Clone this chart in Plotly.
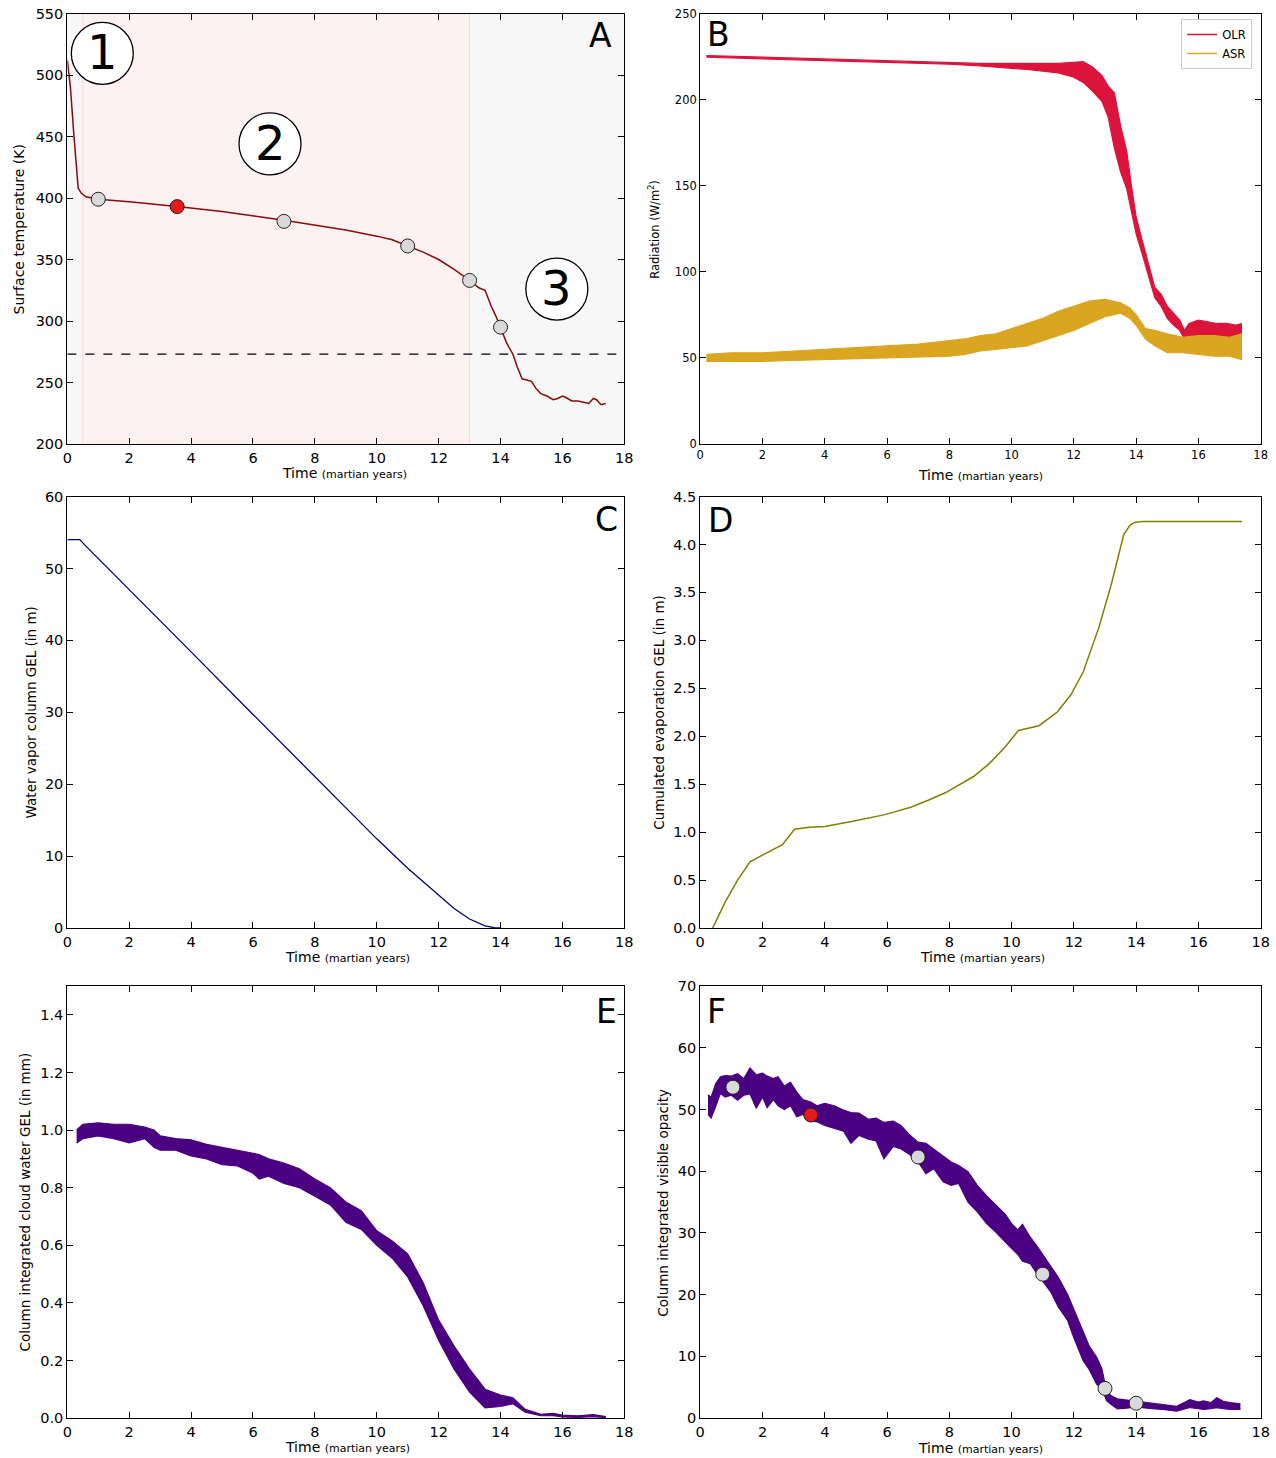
import plotly.graph_objects as go

W, H = 1276, 1458
FONT = "DejaVu Sans"

# ---------------- Panel A: surface temperature ----------------
a_t = [0.0, 0.1, 0.2, 0.3, 0.35, 0.45, 0.6, 1.0, 2.0, 3.55, 5.0, 7.0, 8.0, 9.0, 10.0, 10.5, 11.0, 11.5,
       12.0, 12.5, 13.0, 13.3, 13.5, 13.6, 13.7, 13.85, 14.0, 14.2, 14.4, 14.55, 14.7, 14.9, 15.0, 15.15,
       15.3, 15.5, 15.7, 15.85, 16.0, 16.1, 16.3, 16.5, 16.7, 16.85, 17.0, 17.1, 17.25, 17.4]
a_T = [512, 490, 455, 420, 408, 404, 401, 399, 397, 393, 389, 382, 378, 374, 369, 366, 361, 356,
       350, 342, 333, 327, 325, 318, 312, 304, 295, 282, 273, 262, 253, 252, 251, 245,
       241, 239, 236, 237, 239, 238, 235, 235, 234, 233, 237, 236, 232, 233]
a_mark_t = [1.0, 7.0, 11.0, 13.0, 14.0]
a_mark_T = [399, 381, 361, 333, 295]
a_red_t = [3.55]
a_red_T = [393]
a_freeze = 273
a_phase_edges = [0.0, 0.5, 13.0, 18.0]
a_phase_labels = ["1", "2", "3"]
a_phase_pos_t = [1.13, 6.55, 15.82]
a_phase_pos_T = [517.6, 444.0, 326.0]

# ---------------- Panel B: radiation (noisy bands: lower / upper envelopes) ----------------
olr_t = [0.2, 1, 2, 3, 4, 5, 6, 7, 8, 9, 10, 10.5, 11, 11.5, 12, 12.3, 12.6, 12.9, 13.1, 13.3, 13.5,
         13.7, 13.85, 14.0, 14.2, 14.4, 14.6, 14.8, 15.0, 15.2, 15.4, 15.55, 15.7, 16.0, 16.3, 16.6,
         16.9, 17.2, 17.4]
olr_lo = [224.6, 224.2, 223.7, 223.3, 222.8, 222.2, 221.7, 221.2, 220.6, 219.5, 218.3, 217.5, 216.5,
          215.5, 213, 210, 205, 199, 190, 172, 158, 148, 135, 122, 110, 97, 85, 80, 73, 69, 66, 61, 63,
          62, 63, 61, 61, 63, 64]
olr_hi = [225.6, 225.2, 224.7, 224.3, 223.8, 223.2, 222.7, 222.2, 221.8, 221.0, 221.0, 221.2, 221,
          221, 221.5, 222, 219, 214, 208, 204, 185, 170, 150, 132, 118, 104, 91, 87, 80, 76, 72, 66, 70,
          72, 71, 70, 70, 69, 70]
asr_t = [0.2, 1, 2, 3, 4, 5, 6, 7, 8, 8.5, 9, 9.5, 10, 10.5, 11, 11.5, 12, 12.5, 13, 13.5, 13.8, 14.0,
         14.3, 14.6, 15.0, 15.5, 16.0, 16.5, 17.0, 17.4]
asr_lo = [48, 48, 48, 48.5, 49, 49.5, 50, 50.5, 51, 52, 54, 55, 56, 57, 60, 63, 66, 70, 74, 76, 73, 69,
          61, 57, 53, 53, 52, 51, 51, 49]
asr_hi = [52, 53, 53, 54, 55, 56, 57, 58, 60, 61, 63, 64, 67, 70, 73, 77, 80, 83, 84, 82, 79, 75, 67,
          66, 64, 62, 63, 63, 62, 64]

# ---------------- Panel C: water vapour column ----------------
c_t = [0.0, 0.4, 0.6, 2, 4, 6, 8, 10, 11, 12, 12.5, 13, 13.5, 13.8, 14.0]
c_v = [54, 54, 53.1, 47.1, 38.4, 29.7, 21.0, 12.4, 8.3, 4.5, 2.7, 1.25, 0.3, 0.05, 0.0]

# ---------------- Panel D: cumulated evaporation ----------------
d_t = [0.4, 0.8, 1.2, 1.6, 2.0, 2.64, 3.03, 3.5, 4.0, 4.86, 5.9, 6.76, 7.3, 7.87, 8.78, 9.3, 9.8, 10.22,
       10.88, 11.46, 11.9, 12.3, 12.8, 13.2, 13.6, 13.8, 13.95, 14.2, 17.4]
d_v = [0.0, 0.27, 0.5, 0.69, 0.76, 0.87, 1.03, 1.05, 1.06, 1.11, 1.18, 1.26, 1.33, 1.41, 1.58, 1.72,
       1.89, 2.06, 2.11, 2.25, 2.43, 2.67, 3.13, 3.58, 4.1, 4.2, 4.23, 4.24, 4.24]

# ---------------- Panel E: cloud water (noisy band) ----------------
e_t = [0.3, 0.5, 1, 1.5, 2, 2.5, 2.8, 3, 3.5, 4, 4.5, 5, 5.5, 6, 6.2, 6.5, 7, 7.5, 8, 8.5, 9, 9.5, 10,
       10.5, 11, 11.5, 12, 12.5, 13, 13.5, 14, 14.4, 14.8, 15.3, 15.7, 16.0, 16.5, 17.0, 17.4]
e_lo = [0.955, 0.97, 0.98, 0.97, 0.955, 0.97, 0.94, 0.93, 0.93, 0.91, 0.90, 0.88, 0.875, 0.85, 0.83,
        0.84, 0.815, 0.80, 0.77, 0.74, 0.68, 0.655, 0.60, 0.555, 0.49, 0.39, 0.27, 0.17, 0.09, 0.035,
        0.04, 0.05, 0.02, 0.008, 0.008, 0.004, 0.002, 0.005, 0.001]
e_hi = [1.00, 1.02, 1.025, 1.02, 1.02, 1.01, 1.00, 0.98, 0.97, 0.966, 0.95, 0.94, 0.93, 0.92, 0.915,
        0.90, 0.885, 0.865, 0.83, 0.80, 0.75, 0.72, 0.65, 0.615, 0.57, 0.47, 0.34, 0.25, 0.17, 0.10,
        0.08, 0.07, 0.03, 0.013, 0.016, 0.01, 0.008, 0.012, 0.005]

# ---------------- Panel F: visible opacity (noisy band) ----------------
f_t = [0.25, 0.35, 0.5, 0.65, 0.8, 1.0, 1.2, 1.4, 1.6, 1.8, 2.0, 2.15, 2.35, 2.5, 2.7, 2.9, 3.1, 3.3,
       3.55, 3.75, 4.0, 4.3, 4.6, 4.84, 5.1, 5.4, 5.65, 5.9, 6.2, 6.45, 6.7, 7.0, 7.25, 7.5, 7.8, 8.06,
       8.3, 8.6, 8.9, 9.2, 9.5, 9.8, 10.0, 10.2, 10.35, 10.6, 10.8, 11.0, 11.25, 11.5, 11.8, 12.0, 12.3,
       12.5, 12.73, 12.9, 13.05, 13.2, 13.4, 13.7, 14.0, 14.5, 14.87, 15.3, 15.73, 16.0, 16.16, 16.4,
       16.59, 16.8, 17.02, 17.35]
f_lo = [49.2, 48.6, 50.5, 52.6, 52.0, 52.3, 51.5, 52.3, 52.5, 50.2, 52.0, 50.3, 51.6, 50.6, 50.0, 50.6,
        48.8, 49.2, 48.2, 48.0, 47.4, 46.9, 46.5, 44.5, 45.8, 45.2, 44.9, 42.0, 44.0, 43.6, 42.8, 41.5,
        39.6, 40.4, 38.3, 37.7, 38.0, 35.0, 33.4, 31.5, 30.1, 28.5, 27.5, 26.5, 25.4, 25.0, 23.5, 22.2,
        20.5, 18.0, 15.8, 13.0, 9.3, 7.8, 5.5, 4.8, 2.8, 2.2, 1.5, 1.6, 1.8, 1.5, 1.4, 1.1, 1.7, 1.5,
        1.4, 1.5, 1.7, 1.5, 1.4, 1.4]
f_hi = [52.4, 52.0, 54.2, 55.3, 55.5, 55.4, 55.8, 55.0, 56.7, 55.6, 55.9, 55.4, 55.0, 55.3, 53.8, 54.4,
        52.8, 51.6, 51.2, 50.6, 51.0, 50.6, 49.9, 49.5, 49.4, 48.4, 48.6, 47.9, 48.1, 47.4, 46.0, 44.7,
        44.5, 43.6, 42.5, 41.5, 40.9, 39.9, 37.7, 36.0, 34.5, 33.0, 31.5, 30.5, 31.4, 29.3, 28.0, 26.5,
        24.8, 22.8, 20.0, 17.6, 13.7, 11.6, 9.9, 8.0, 4.4, 3.6, 3.1, 2.9, 2.8, 2.4, 2.2, 1.9, 3.0, 2.6,
        2.8, 2.5, 3.3, 2.7, 2.5, 2.3]
f_mark_t = [1.05, 7.0, 11.0, 13.0, 14.0]
f_mark_v = [53.6, 42.3, 23.3, 4.8, 2.4]
f_red_t = [3.55]
f_red_v = [49.1]

# ---------------- styling ----------------
C_A = "#8b0a0a"
C_OLR = "#dc143c"
C_ASR = "#daa520"
C_C = "#000080"
C_D = "#808000"
C_EF = "#4b0082"

fig = go.Figure()

# page-pixel -> paper coordinates (calibrated on the rendered page)
def px(x):
    return ((x - 3.6) / 0.99) / W

def py(y):
    return 1 - ((y - 7.0) / 0.989) / H

def band(t, lo, hi, color, ax):
    xa, ya = ("x" + ax, "y" + ax) if ax != "1" else ("x", "y")
    fig.add_trace(go.Scatter(x=t, y=lo, mode="lines", line=dict(color=color, width=1.2),
                             xaxis=xa, yaxis=ya, showlegend=False, hoverinfo="skip"))
    fig.add_trace(go.Scatter(x=t, y=hi, mode="lines", line=dict(color=color, width=1.2),
                             fill="tonexty", fillcolor=color, xaxis=xa, yaxis=ya,
                             showlegend=False, hoverinfo="skip"))

# Panel A
fig.add_trace(go.Scatter(x=a_t, y=a_T, mode="lines", line=dict(color=C_A, width=1.5),
                         xaxis="x", yaxis="y", showlegend=False))
fig.add_trace(go.Scatter(x=a_mark_t, y=a_mark_T, mode="markers",
                         marker=dict(size=14, color="#d9d9d9", line=dict(color="#222222", width=1)),
                         xaxis="x", yaxis="y", showlegend=False))
fig.add_trace(go.Scatter(x=a_red_t, y=a_red_T, mode="markers",
                         marker=dict(size=14, color="#e8191b", line=dict(color="#222222", width=1)),
                         xaxis="x", yaxis="y", showlegend=False))

# Panel B
band(olr_t, olr_lo, olr_hi, C_OLR, "2")
band(asr_t, asr_lo, asr_hi, C_ASR, "2")
fig.add_trace(go.Scatter(x=[None], y=[None], mode="lines", line=dict(color=C_OLR, width=1.5),
                         name="OLR", xaxis="x2", yaxis="y2"))
fig.add_trace(go.Scatter(x=[None], y=[None], mode="lines", line=dict(color=C_ASR, width=1.5),
                         name="ASR", xaxis="x2", yaxis="y2"))

# Panel C
fig.add_trace(go.Scatter(x=c_t, y=c_v, mode="lines", line=dict(color=C_C, width=1.3),
                         xaxis="x3", yaxis="y3", showlegend=False))
# Panel D
fig.add_trace(go.Scatter(x=d_t, y=d_v, mode="lines", line=dict(color=C_D, width=1.5),
                         xaxis="x4", yaxis="y4", showlegend=False))
# Panel E
band(e_t, e_lo, e_hi, C_EF, "5")
# Panel F
band(f_t, f_lo, f_hi, C_EF, "6")
fig.add_trace(go.Scatter(x=f_mark_t, y=f_mark_v, mode="markers",
                         marker=dict(size=14, color="#d9d9d9", line=dict(color="#222222", width=1)),
                         xaxis="x6", yaxis="y6", showlegend=False))
fig.add_trace(go.Scatter(x=f_red_t, y=f_red_v, mode="markers",
                         marker=dict(size=14, color="#e8191b", line=dict(color="#222222", width=1)),
                         xaxis="x6", yaxis="y6", showlegend=False))

# ---------------- axes ----------------
LEFT = [px(66), px(623.5)]
RIGHT = [px(699.5), px(1260.5)]
ROWS = [[py(443), py(12.5)], [py(927), py(495.5)], [py(1417), py(985)]]

def axis(domain, rng, dtick, anchor, size, fmt=None, tick0=0):
    d = dict(domain=domain, range=rng, dtick=dtick, tick0=tick0, anchor=anchor,
             showline=True, linecolor="black", linewidth=1.2, mirror="ticks",
             ticks="inside", ticklen=6, tickcolor="black", tickwidth=1,
             showgrid=False, zeroline=False,
             tickfont=dict(family=FONT, size=size, color="black"))
    if fmt:
        d["tickformat"] = fmt
    return d

layout = dict(
    width=W, height=H, margin=dict(l=0, r=0, t=0, b=0),
    paper_bgcolor="white", plot_bgcolor="white",
    font=dict(family=FONT, color="black"),
    xaxis=axis(LEFT, [0, 18], 2, "y", 14.5),
    yaxis=axis(ROWS[0], [200, 550], 50, "x", 14.5),
    xaxis2=axis(RIGHT, [0, 18], 2, "y2", 11.5),
    yaxis2=axis(ROWS[0], [0, 250], 50, "x2", 11.5),
    xaxis3=axis(LEFT, [0, 18], 2, "y3", 14.5),
    yaxis3=axis(ROWS[1], [0, 60], 10, "x3", 14.5),
    xaxis4=axis(RIGHT, [0, 18], 2, "y4", 14.5),
    yaxis4=axis(ROWS[1], [0, 4.5], 0.5, "x4", 14.5, ".1f"),
    xaxis5=axis(LEFT, [0, 18], 2, "y5", 14.5),
    yaxis5=axis(ROWS[2], [0, 1.5], 0.2, "x5", 14.5, ".1f"),
    xaxis6=axis(RIGHT, [0, 18], 2, "y6", 14.5),
    yaxis6=axis(ROWS[2], [0, 70], 10, "x6", 14.5),
    legend=dict(x=px(1252), y=py(18), xanchor="right", yanchor="top", traceorder="normal",
                bgcolor="white", bordercolor="#cccccc", borderwidth=1,
                font=dict(family=FONT, size=11.5), tracegroupgap=0, itemwidth=30),
    showlegend=True,
)
fig.update_layout(**layout)

# ---------------- Panel A shapes: phase backgrounds, lines, circles ----------------
shapes = []
bg_cols = ["#f7f7f7", "#fdf2f1", "#f7f7f7"]
for i in range(3):
    shapes.append(dict(type="rect", xref="x", yref="y", x0=a_phase_edges[i], x1=a_phase_edges[i + 1],
                       y0=200, y1=550, fillcolor=bg_cols[i], line=dict(width=0), layer="below"))
for xe in a_phase_edges[1:3]:
    shapes.append(dict(type="line", xref="x", yref="y", x0=xe, x1=xe, y0=200, y1=550,
                       line=dict(color="#f4d9d6", width=1), layer="below"))
shapes.append(dict(type="line", xref="x", yref="y", x0=0, x1=18, y0=a_freeze, y1=a_freeze,
                   line=dict(color="black", width=1.3, dash="dash")))
for cx, cy in zip(a_phase_pos_t, a_phase_pos_T):
    shapes.append(dict(type="circle", xref="x", yref="y", xsizemode="pixel", ysizemode="pixel",
                       xanchor=cx, yanchor=cy, x0=-31, x1=31, y0=-31, y1=31,
                       fillcolor="white", line=dict(color="black", width=1.3)))
fig.update_layout(shapes=shapes)

ann = []
for lab, cx, cy in zip(a_phase_labels, a_phase_pos_t, a_phase_pos_T):
    ann.append(dict(x=cx, y=cy, xref="x", yref="y", text=lab, showarrow=False,
                    font=dict(family=FONT, size=48, color="black"), yshift=1))

letters = [("A", 600, 34), ("B", 718, 33), ("C", 606, 518), ("D", 720, 519), ("E", 606, 1010), ("F", 716, 1010)]
for t, x, y in letters:
    ann.append(dict(x=px(x), y=py(y), xref="paper", yref="paper", text=t, showarrow=False,
                    xanchor="center", yanchor="middle", font=dict(family=FONT, size=33, color="black")))

xt = "Time <span style='font-size:11px'>(martian years)</span>"
for x, y in [(343, 472), (980, 474), (346, 956), (982, 956), (346, 1446), (980, 1447)]:
    ann.append(dict(x=px(x), y=py(y), xref="paper", yref="paper", text=xt, showarrow=False,
                    xanchor="center", yanchor="middle", font=dict(family=FONT, size=14, color="black")))

ytitles = [("Surface temperature (K)", 18, 228, 14),
           ("Radiation (W/m<sup>2</sup>)", 653, 228, 11.5),
           ("Water vapor column GEL (in m)", 30, 711, 13.5),
           ("Cumulated evaporation GEL (in m)", 658, 711, 13.5),
           ("Column integrated cloud water GEL (in mm)", 24, 1201, 13.5),
           ("Column integrated visible opacity", 662, 1202, 13.5)]
for t, x, y, s in ytitles:
    ann.append(dict(x=px(x), y=py(y), xref="paper", yref="paper", text=t, showarrow=False,
                    textangle=-90, xanchor="center", yanchor="middle",
                    font=dict(family=FONT, size=s, color="black")))
fig.update_layout(annotations=ann)

fig.write_html("out.html", config={"displayModeBar": False},
               post_script="document.body.style.margin='0px';document.body.style.padding='0px';"
                           "document.documentElement.style.overflow='hidden';")
